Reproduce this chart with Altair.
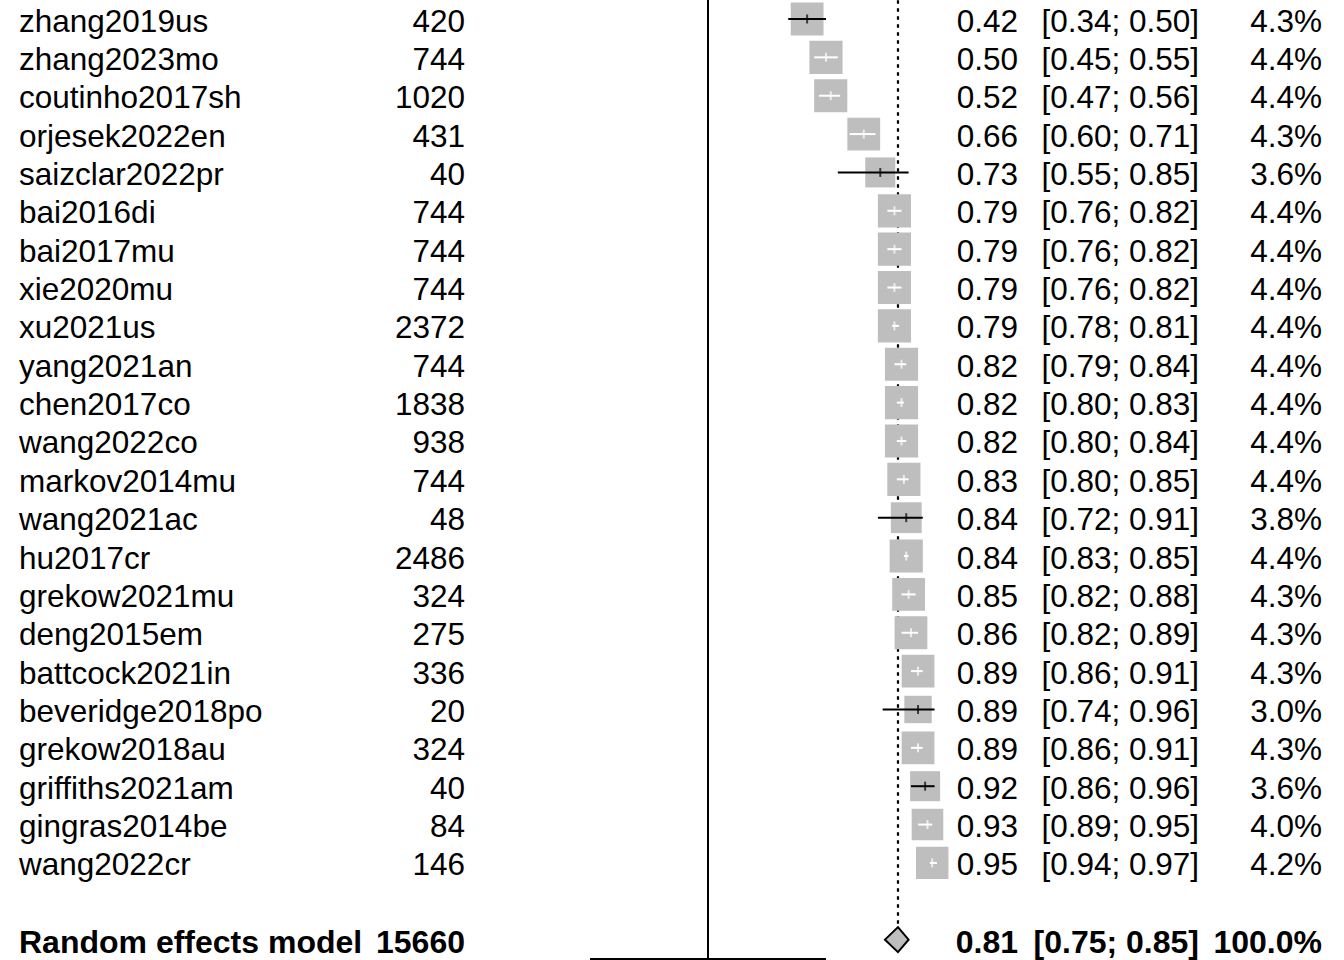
import altair as alt
import pandas as pd
import numpy as np

studies = ["zhang2019us", "zhang2023mo", "coutinho2017sh", "orjesek2022en", "saizclar2022pr",
           "bai2016di", "bai2017mu", "xie2020mu", "xu2021us", "yang2021an", "chen2017co",
           "wang2022co", "markov2014mu", "wang2021ac", "hu2017cr", "grekow2021mu", "deng2015em",
           "battcock2021in", "beveridge2018po", "grekow2018au", "griffiths2021am", "gingras2014be",
           "wang2022cr"]
n_total = [420, 744, 1020, 431, 40, 744, 744, 744, 2372, 744, 1838, 938, 744, 48, 2486,
           324, 275, 336, 20, 324, 40, 84, 146]
estimate = [0.42, 0.50, 0.52, 0.66, 0.73, 0.79, 0.79, 0.79, 0.79, 0.82, 0.82, 0.82, 0.83,
            0.84, 0.84, 0.85, 0.86, 0.89, 0.89, 0.89, 0.92, 0.93, 0.95]
ci_lower = [0.34, 0.45, 0.47, 0.60, 0.55, 0.76, 0.76, 0.76, 0.78, 0.79, 0.80, 0.80, 0.80,
            0.72, 0.83, 0.82, 0.82, 0.86, 0.74, 0.86, 0.86, 0.89, 0.94]
ci_upper = [0.50, 0.55, 0.56, 0.71, 0.85, 0.82, 0.82, 0.82, 0.81, 0.84, 0.83, 0.84, 0.85,
            0.91, 0.85, 0.88, 0.89, 0.91, 0.96, 0.91, 0.96, 0.95, 0.97]
weight = [4.3, 4.4, 4.4, 4.3, 3.6, 4.4, 4.4, 4.4, 4.4, 4.4, 4.4, 4.4, 4.4, 3.8, 4.4, 4.3,
          4.3, 4.3, 3.0, 4.3, 3.6, 4.0, 4.2]

pooled_label = "Random effects model"
pooled_n = 15660
pooled_est = 0.805
pooled_lower = 0.75
pooled_upper = 0.85
pooled_weight = 100.0

axis_min, axis_max = -0.5, 0.5
null_value = 0.0

# layout constants
W, H = 1344, 960
PX_PER_UNIT = 236.0
X_ZERO_PX = 708.0
ROW_PX = 38.36
ROW1_PX = 19.0
FONT = "Liberation Sans"
FS = 31.5
FS_BOLD = 32
GREY = "#BEBEBE"
BOX_K = 250.0  # square area per percent weight

x_dom = [-X_ZERO_PX / PX_PER_UNIT, (W - X_ZERO_PX) / PX_PER_UNIT]
y_dom = [1 - ROW1_PX / ROW_PX, 1 + (H - ROW1_PX) / ROW_PX]
xs = alt.Scale(domain=x_dom, range=[0, W], nice=False, zero=False)
ys = alt.Scale(domain=y_dom, range=[0, H], nice=False, zero=False)

k = len(studies)
df = pd.DataFrame({
    "study": studies, "n": n_total, "est": estimate, "lo": ci_lower, "hi": ci_upper, "w": weight,
})
df["row"] = np.arange(1, k + 1)
df["size"] = BOX_K * df["w"]
half_side = np.sqrt(df["size"]) / 2
reach = np.maximum(df["est"] - df["lo"], df["hi"] - df["est"]) * PX_PER_UNIT
df["col"] = np.where(reach >= half_side - 1, "black", "white")
df["est_txt"] = df["est"].map(lambda v: f"{v:.2f}")
df["ci_txt"] = [f"[{a:.2f}; {b:.2f}]" for a, b in zip(df["lo"], df["hi"])]
df["w_txt"] = df["w"].map(lambda v: f"{v:.1f}%")
df["n_txt"] = df["n"].astype(str)

pooled_row = k + 2
dpool = pd.DataFrame({
    "study": [pooled_label], "n_txt": [str(pooled_n)], "est": [pooled_est],
    "est_txt": [f"{pooled_est:.2f}"], "ci_txt": [f"[{pooled_lower:.2f}; {pooled_upper:.2f}]"],
    "w_txt": [f"{pooled_weight:.1f}%"], "row": [pooled_row],
})
half_h = 12.5 / ROW_PX
ddia = pd.DataFrame({
    "x": [pooled_lower, pooled_est, pooled_upper],
    "y1": [pooled_row, pooled_row - half_h, pooled_row],
    "y2": [pooled_row, pooled_row + half_h, pooled_row],
})
dref = pd.DataFrame({"x": [null_value]})
daxis = pd.DataFrame({"a": [axis_min], "b": [axis_max]})

X = lambda f: alt.X(f, type="quantitative", scale=xs, axis=None)
Y = lambda f: alt.Y(f, type="quantitative", scale=ys, axis=None)

ref_line = alt.Chart(dref).mark_rule(color="black", strokeWidth=2).encode(
    x=X("x"), y=alt.value(0), y2=alt.value(959))
axis_line = alt.Chart(daxis).mark_rule(color="black", strokeWidth=2).encode(
    x=X("a"), x2="b", y=alt.value(959))
pool_line = alt.Chart(dpool).mark_rule(color="black", strokeWidth=2.2, strokeDash=[3.5, 4.5]).encode(
    x=X("est"), y=Y("row"), y2=alt.value(0))

boxes = alt.Chart(df).mark_square(color=GREY, filled=True, opacity=1).encode(
    x=X("est"), y=Y("row"), size=alt.Size("size:Q", scale=None))
ci_lines = alt.Chart(df).mark_rule(strokeWidth=2).encode(
    x=X("lo"), x2="hi", y=Y("row"), color=alt.Color("col:N", scale=None))
ticks = alt.Chart(df).mark_tick(orient="vertical", size=9, thickness=2).encode(
    x=X("est"), y=Y("row"), color=alt.Color("col:N", scale=None))

diamond = alt.Chart(ddia).mark_area(orient="vertical", color=GREY, fill=GREY, stroke="black",
                                    strokeWidth=2, opacity=1, fillOpacity=1).encode(
    x=X("x"), y=Y("y1"), y2="y2")

def col_text(data, field, xpx, align, bold=False):
    return alt.Chart(data).mark_text(
        font=FONT, fontSize=FS_BOLD if bold else FS, align=align, baseline="middle",
        dy=3.5, color="black", fontWeight="bold" if bold else "normal").encode(
        x=alt.value(xpx), y=Y("row"), text=f"{field}:N")

texts = []
for data, bold in [(df, False), (dpool, True)]:
    texts += [
        col_text(data, "study", 19, "left", bold),
        col_text(data, "n_txt", 465, "right", bold),
        col_text(data, "est_txt", 1018, "right", bold),
        col_text(data, "ci_txt", 1199, "right", bold),
        col_text(data, "w_txt", 1322, "right", bold),
    ]

chart = alt.layer(ref_line, axis_line, pool_line, boxes, ci_lines, ticks, diamond, *texts).properties(
    width=W, height=H, padding=0, autosize=alt.AutoSizeParams(type="none"),
    background="white"
).configure_view(strokeWidth=0)

chart.save("out.html", embed_options={"renderer": "svg", "actions": False})
